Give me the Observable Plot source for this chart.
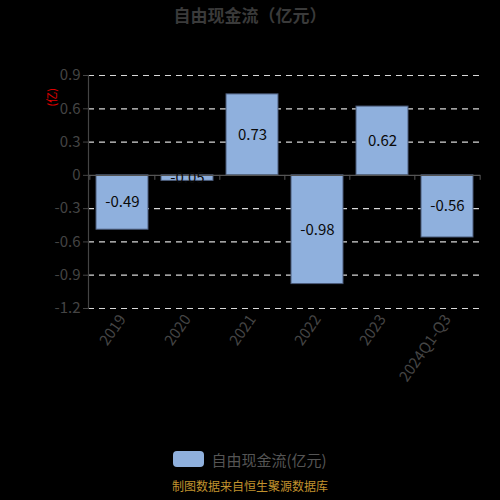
<!DOCTYPE html>
<html><head><meta charset="utf-8">
<script src="https://cdn.jsdelivr.net/npm/d3@7"></script>
<script src="https://cdn.jsdelivr.net/npm/@observablehq/plot@0.6"></script>
<style>
html,body{margin:0;padding:0;background:#000;width:500px;height:500px;overflow:hidden;font-family:"Noto Sans CJK SC","Noto Sans",sans-serif;}
#title{height:30px;line-height:30px;text-align:center;font-size:17px;font-weight:bold;color:#3a3a3a;}
#chart{height:410px;position:relative;}
#legend{height:38px;display:flex;align-items:center;justify-content:center;gap:7px;font-size:15px;color:#555;}
#legend .sw{width:31px;height:16px;border-radius:4px;background:#8fb0dd;}
#footer{height:22px;line-height:16px;text-align:center;font-size:12px;color:#c0922e;}
</style></head>
<body>
<div id="title">自由现金流（亿元）</div>
<div id="chart"></div>
<div id="legend"><div class="sw"></div><span>自由现金流(亿元)</span></div>
<div id="footer">制图数据来自恒生聚源数据库</div>
<script>
const categories = ["2019","2020","2021","2022","2023","2024Q1-Q3"];
const values = [-0.49,-0.05,0.73,-0.98,0.62,-0.56];
const yTicks = [0.9,0.6,0.3,0,-0.3,-0.6,-0.9,-1.2];
const unitLabel = "(亿)";

const data = categories.map((c,i)=>({cat:c, v:values[i]}));
const W = 500, ML = 88, MR = 20;
const step = (W - ML - MR) / categories.length;

const chart = Plot.plot({
  width: W, height: 410,
  marginLeft: ML, marginRight: MR, marginTop: 45, marginBottom: 132,
  style: {background:"#000", fontFamily:"'Noto Sans CJK SC','Noto Sans',sans-serif"},
  x: {domain: categories, paddingInner: 0.2, paddingOuter: 0.1},
  y: {domain: [-1.2, 0.9]},
  marks: [
    Plot.ruleY(yTicks.filter(t=>t!==0), {stroke:"#d8d8d8", strokeDasharray:"6,5", strokeWidth:1.2}),
    Plot.barY(data, {x:"cat", y:"v", fill:"#8fb0dd", stroke:"#4a5a78", strokeWidth:1}),
    Plot.ruleY([0], {stroke:"#555", strokeWidth:1.2}),
    Plot.ruleX(categories, {x:d=>d, dx:-step/2, y1:0, y2:-0.045, stroke:"#555"}),
    Plot.ruleX(categories.slice(-1), {x:d=>d, dx:step/2, y1:0, y2:-0.045, stroke:"#555"}),
    Plot.text(data, {x:"cat", y:d=>d.v/2, text:d=>d.v.toFixed(2), fill:"#0a0a0a", fontSize:15}),
    Plot.axisY({ticks:yTicks, tickFormat:d=>String(d), tickSize:5, stroke:"#444", color:"#444", fontSize:15, tickPadding:3, label:null}),
    Plot.frame({anchor:"left", stroke:"#444", strokeWidth:1.2}),
    Plot.axisX({tickSize:0, tickRotate:-55, tickPadding:8, fontSize:15, color:"#454545", label:null, textAnchor:"end"}),
    Plot.text([unitLabel], {frameAnchor:"top-left", text:d=>d, dx:-40, dy:31, rotate:-90, fill:"#e00000", fontSize:11})
  ]
});
document.getElementById("chart").appendChild(chart);
</script>
</body></html>
